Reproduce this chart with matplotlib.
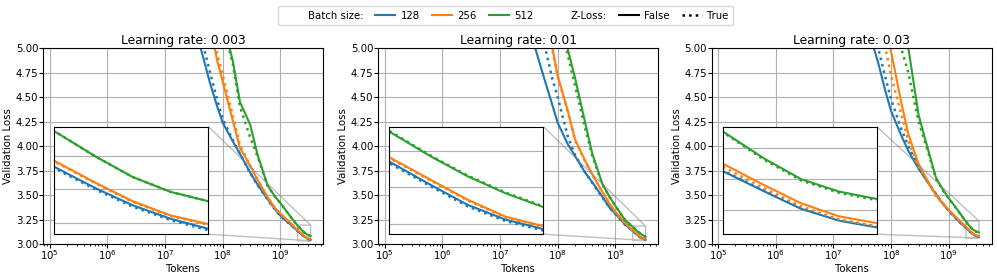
import matplotlib
matplotlib.use("Agg")
from matplotlib import pyplot as plt
from matplotlib.lines import Line2D
from matplotlib.ticker import MultipleLocator
import numpy as np

plt.rcParams["font.size"] = 7.3
plt.rcParams["xtick.major.size"] = 2.6
plt.rcParams["ytick.major.size"] = 2.6
plt.rcParams["xtick.minor.size"] = 1.5
plt.rcParams["xtick.major.pad"] = 0.4
plt.rcParams["ytick.major.pad"] = 0.8
plt.rcParams["xtick.minor.pad"] = 0.4

learning_rates = ["0.003", "0.01", "0.03"]
batch_sizes = ["128", "256", "512"]
colors = ["tab:blue", "tab:orange", "tab:green"]

tokens = [1.29e5, 2e7, 4e7, 6e7, 8e7, 1e8, 1.5e8, 2e8, 3e8, 4e8, 6e8, 8e8,
          1e9, 1.5e9, 2.0e9, 2.3e9, 2.6e9, 2.95e9, 3.35e9]

# lr 0.003
lr1_b128 = [10.5, 6.3, 5.04, 4.65, 4.41, 4.24, 4.05, 3.92, 3.73, 3.61, 3.46, 3.36,
            3.29, 3.20, 3.133, 3.101, 3.076, 3.056, 3.041]
lr1_b128_z = [10.5, 6.5, 5.18, 4.76, 4.48, 4.28, 4.06, 3.92, 3.725, 3.605, 3.455, 3.355,
              3.287, 3.197, 3.131, 3.099, 3.074, 3.054, 3.039]
lr1_b256 = [10.6, 7.0, 5.9, 5.25, 4.88, 4.66, 4.26, 3.98, 3.80, 3.66, 3.48, 3.37,
            3.31, 3.215, 3.142, 3.109, 3.082, 3.061, 3.048]
lr1_b256_z = [10.6, 7.1, 6.0, 5.33, 4.95, 4.73, 4.31, 4.01, 3.80, 3.66, 3.48, 3.37,
              3.309, 3.214, 3.141, 3.108, 3.081, 3.060, 3.047]
lr1_b512 = [10.7, 7.8, 6.8, 6.1, 5.6, 5.3, 4.87, 4.45, 4.22, 3.92, 3.60, 3.49,
            3.42, 3.28, 3.186, 3.148, 3.118, 3.096, 3.082]
lr1_b512_z = [10.7, 7.8, 6.8, 6.05, 5.55, 5.25, 4.84, 4.40, 4.09, 3.90, 3.595, 3.487,
              3.418, 3.279, 3.186, 3.148, 3.118, 3.096, 3.082]

# lr 0.01
lr2_b128 = [10.5, 6.3, 5.02, 4.67, 4.43, 4.24, 4.02, 3.90, 3.73, 3.63, 3.48, 3.37,
            3.31, 3.195, 3.135, 3.103, 3.076, 3.056, 3.043]
lr2_b128_z = [10.5, 7.0, 5.7, 5.02, 4.70, 4.50, 4.10, 3.91, 3.73, 3.625, 3.475, 3.367,
              3.307, 3.193, 3.133, 3.101, 3.074, 3.054, 3.041]
lr2_b256 = [10.6, 7.0, 6.0, 5.4, 5.02, 4.72, 4.36, 4.07, 3.85, 3.71, 3.53, 3.41,
            3.33, 3.21, 3.141, 3.110, 3.083, 3.060, 3.047]
lr2_b256_z = [10.6, 7.0, 6.0, 5.4, 5.0, 4.71, 4.35, 4.06, 3.845, 3.705, 3.527, 3.408,
              3.328, 3.209, 3.140, 3.109, 3.082, 3.059, 3.046]
lr2_b512 = [10.7, 8.0, 7.0, 6.4, 5.9, 5.5, 4.99, 4.70, 4.24, 3.92, 3.61, 3.48,
            3.39, 3.24, 3.176, 3.142, 3.115, 3.092, 3.073]
lr2_b512_z = [10.7, 8.0, 7.0, 6.3, 5.8, 5.4, 4.93, 4.62, 4.18, 3.90, 3.605, 3.478,
              3.39, 3.241, 3.177, 3.143, 3.116, 3.093, 3.074]

# lr 0.03
lr3_b128 = [10.5, 6.5, 5.2, 4.85, 4.56, 4.36, 4.11, 3.95, 3.77, 3.66, 3.51, 3.41,
            3.34, 3.23, 3.163, 3.130, 3.102, 3.083, 3.072]
lr3_b128_z = [10.5, 7.0, 5.6, 5.0, 4.70, 4.48, 4.18, 4.00, 3.79, 3.67, 3.51, 3.41,
              3.34, 3.231, 3.164, 3.131, 3.103, 3.084, 3.073]
lr3_b256 = [10.6, 7.5, 6.4, 5.8, 5.3, 4.97, 4.45, 4.12, 3.82, 3.68, 3.50, 3.41,
            3.35, 3.245, 3.175, 3.140, 3.111, 3.090, 3.079]
lr3_b256_z = [10.6, 7.3, 6.2, 5.55, 5.0, 4.72, 4.33, 4.05, 3.79, 3.67, 3.495, 3.405,
              3.345, 3.24, 3.170, 3.135, 3.106, 3.085, 3.074]
lr3_b512 = [10.7, 8.5, 7.5, 6.8, 6.2, 5.8, 5.35, 5.0, 4.32, 4.05, 3.68, 3.55,
            3.47, 3.33, 3.227, 3.183, 3.150, 3.130, 3.118]
lr3_b512_z = [10.7, 8.3, 7.2, 6.5, 5.9, 5.5, 5.0, 4.75, 4.25, 4.02, 3.67, 3.545,
              3.467, 3.328, 3.226, 3.181, 3.148, 3.128, 3.116]

runs = [
    [(lr1_b128, lr1_b128_z), (lr1_b256, lr1_b256_z), (lr1_b512, lr1_b512_z)],
    [(lr2_b128, lr2_b128_z), (lr2_b256, lr2_b256_z), (lr2_b512, lr2_b512_z)],
    [(lr3_b128, lr3_b128_z), (lr3_b256, lr3_b256_z), (lr3_b512, lr3_b512_z)],
]
inset_ylims = [(3.033, 3.193), (3.036, 3.183), (3.061, 3.235)]
inset_xlim = (2.0e9, 3.35e9)

fig = plt.figure(figsize=(9.97, 2.77), dpi=100)
lefts = [0.0434, 0.3794, 0.7138]

for i, lr in enumerate(learning_rates):
    ax = fig.add_axes([lefts[i], 0.1191, 0.2808, 0.7065])
    axins = ax.inset_axes([0.04, 0.05, 0.55, 0.55])
    for (solid, dotted), c in zip(runs[i], colors):
        for a in (ax, axins):
            a.plot(tokens, solid, color=c, lw=1.5, ls="-")
            a.plot(tokens, dotted, color=c, lw=1.8, ls=":")
    ax.set_xscale("log")
    ax.set_xlim(7.74e4, 5.55e9)
    ax.set_ylim(3.0, 5.0)
    ax.grid(True)
    ax.set_title(f"Learning rate: {lr}", fontsize=8.8, pad=3)
    ax.set_xlabel("Tokens", labelpad=1.5)
    ax.set_ylabel("Validation Loss", labelpad=2)

    axins.set_xscale("log")
    axins.set_xlim(*inset_xlim)
    axins.set_ylim(*inset_ylims[i])
    axins.yaxis.set_major_locator(MultipleLocator(0.05))
    axins.grid(True)
    axins.tick_params(which="both", labelbottom=False, labelleft=False, length=0)
    ax.indicate_inset_zoom(axins)

handles = [
    Line2D([], [], color="none"),
    Line2D([], [], color=colors[0], lw=1.5),
    Line2D([], [], color=colors[1], lw=1.5),
    Line2D([], [], color=colors[2], lw=1.5),
    Line2D([], [], color="none"),
    Line2D([], [], color="black", lw=1.5, ls="-"),
    Line2D([], [], color="black", lw=1.8, ls=":"),
]
labels = ["Batch size:"] + batch_sizes + ["Z-Loss:", "False", "True"]
fig.legend(handles, labels, loc="upper center", bbox_to_anchor=(0.507, 0.995),
           ncol=7, frameon=True, columnspacing=1.2, handletextpad=0.5)

plt.savefig("out.png", dpi=100)
